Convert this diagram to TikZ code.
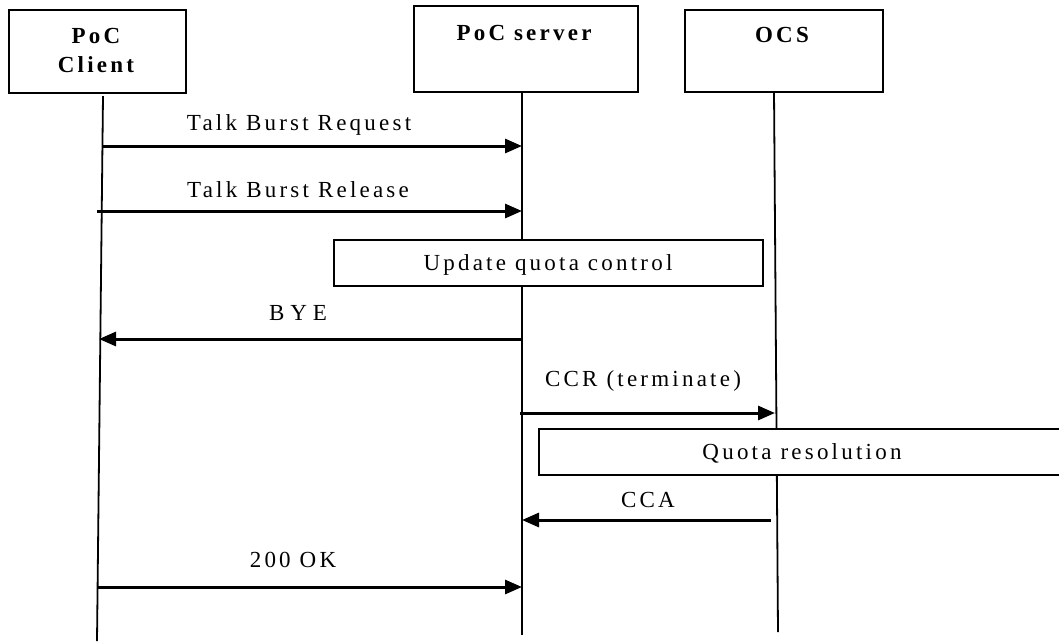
\documentclass[tikz,border=0pt]{standalone}
\usepackage{fontspec}
\setmainfont{Liberation Serif}
\newfontfamily\lblfont[LetterSpace=14]{Liberation Serif}
\usetikzlibrary{arrows.meta}
\begin{document}
\begin{tikzpicture}[x=1pt,y=-1pt,
  box/.style={draw, line width=1.5pt, fill=white, inner sep=0pt, anchor=north west},
  title/.style={font=\lblfont\bfseries\fontsize{23}{29}\selectfont, inner sep=0pt, align=center},
  lbl/.style={font=\lblfont\fontsize{23}{25}\selectfont, inner sep=0pt, anchor=base},
  life/.style={line width=1.8pt},
  msg/.style={line width=3pt, -{Triangle[length=17pt,width=14pt]}},
]
\useasboundingbox (0,0) rectangle (1059,641);
\clip (0,0) rectangle (1059,641);
\fill[white] (0,0) rectangle (1059,641);

% lifeline end points
\coordinate (cTop) at (103,96);
\coordinate (cBot) at (97,641);
\coordinate (sTop) at (522,91);
\coordinate (sBot) at (522,635);
\coordinate (oTop) at (774,91);
\coordinate (oBot) at (778,632);

% entity boxes
\node[box, minimum width=177pt, minimum height=83pt] (client) at (8,9) {};
\node[box, minimum width=224pt, minimum height=86pt] (server) at (413,5) {};
\node[box, minimum width=198pt, minimum height=82pt] (ocs) at (684,9) {};
\node[title] (clientT) at (96,50) {PoC\\Client};
\node[title] (serverT) at (524,33) {PoC server};
\node[title] (ocsT) at (782,35) {OCS};

% lifelines
\draw[life] (cTop) -- (cBot);
\draw[life] (sTop) -- (sBot);
\draw[life] (oTop) -- (oBot);

% action boxes
\node[box, minimum width=429pt, minimum height=46pt] (upd) at (333,239) {};
\node[lbl] (updT) at (548,270) {Update quota control};
\node[box, minimum width=540pt, minimum height=46pt] (quota) at (538,428) {};
\node[lbl] (quotaT) at (802,459) {Quota resolution};

% message end points
\coordinate (m1a) at (102,146); \coordinate (m1b) at (522,146);
\coordinate (m2a) at (97,211);  \coordinate (m2b) at (522,211);
\coordinate (m3a) at (522,339); \coordinate (m3b) at (99,339);
\coordinate (m4a) at (520,413); \coordinate (m4b) at (775,413);
\coordinate (m5a) at (771,520); \coordinate (m5b) at (522,520);
\coordinate (m6a) at (97,587);  \coordinate (m6b) at (522,587);

\draw[msg] (m1a) -- (m1b);
\draw[msg] (m2a) -- (m2b);
\draw[msg] (m3a) -- (m3b);
\draw[msg] (m4a) -- (m4b);
\draw[msg] (m5a) -- (m5b);
\draw[msg] (m6a) -- (m6b);

\node[lbl] (l1) at (299,130) {Talk Burst Request};
\node[lbl] (l2) at (298,197) {Talk Burst Release};
\node[lbl] (l3) at (298,320) {B\hspace{6pt}Y\hspace{6pt}E};
\node[lbl] (l4) at (643,386) {CCR (terminate)};
\node[lbl] (l5) at (648,507) {CCA};
\node[lbl] (l6) at (293,567) {200 OK};
\end{tikzpicture}
\end{document}
